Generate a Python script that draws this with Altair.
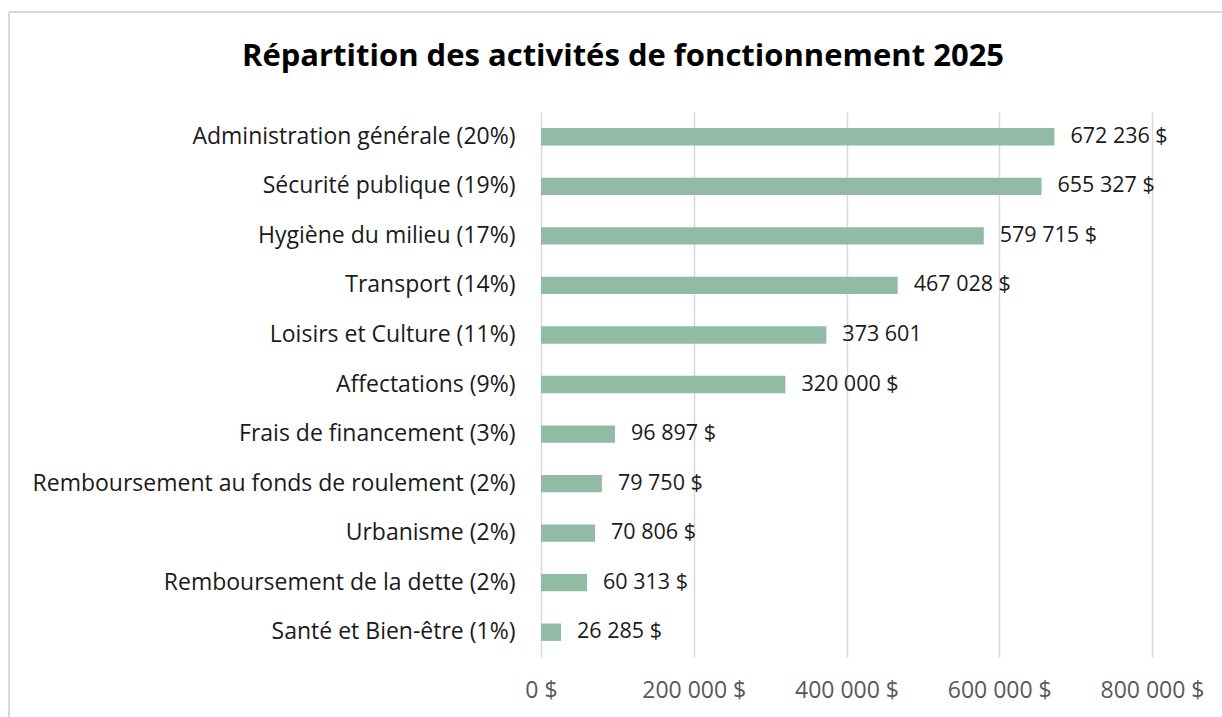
import altair as alt
import pandas as pd

categories = [
    "Administration générale (20%)",
    "Sécurité publique (19%)",
    "Hygiène du milieu (17%)",
    "Transport (14%)",
    "Loisirs et Culture (11%)",
    "Affectations (9%)",
    "Frais de financement (3%)",
    "Remboursement au fonds de roulement (2%)",
    "Urbanisme (2%)",
    "Remboursement de la dette (2%)",
    "Santé et Bien-être (1%)",
]
values = [672236, 655327, 579715, 467028, 373601, 320000, 96897, 79750, 70806, 60313, 26285]
value_labels = [
    "672 236 $", "655 327 $", "579 715 $", "467 028 $", "373 601",
    "320 000 $", "96 897 $", "79 750 $", "70 806 $", "60 313 $", "26 285 $",
]
x_ticks = [0, 200000, 400000, 600000, 800000]
title_text = "Répartition des activités de fonctionnement 2025"

FONT = "Open Sans"
W, H = 611, 545
PAD_L, PAD_T = 541, 112

df = pd.DataFrame({"cat": categories, "val": values, "lab": value_labels})

x_enc = alt.X(
    "val:Q",
    scale=alt.Scale(domain=[0, 800000], nice=False),
    axis=alt.Axis(
        values=x_ticks,
        title=None,
        domain=False,
        ticks=False,
        grid=True,
        gridColor="#d9d9d9",
        gridWidth=1.5,
        labelFontSize=23,
        labelColor="#595959",
        labelFont=FONT,
        labelPadding=22,
        labelFlush=False,
        labelOverlap=False,
        labelExpr="replace(format(datum.value, ',.0f'), ',', ' ') + ' $'",
    ),
)
y_enc = alt.Y(
    "cat:N",
    sort=categories,
    scale=alt.Scale(paddingInner=0.65, paddingOuter=0.325),
    axis=alt.Axis(
        title=None,
        domain=False,
        ticks=False,
        labelFontSize=23,
        labelColor="#1a1a1a",
        labelFont=FONT,
        labelPadding=26,
        labelLimit=0,
    ),
)

base = alt.Chart(df)
bars = base.mark_bar(color="#92bba6").encode(x=x_enc, y=y_enc)
texts = base.mark_text(align="left", baseline="middle", dx=16, fontSize=21.5, font=FONT, color="#1a1a1a").encode(
    x="val:Q", y=alt.Y("cat:N", sort=categories), text="lab:N"
)

one = alt.Chart(pd.DataFrame({"t": [title_text]}))
title = one.mark_text(align="center", baseline="alphabetic", fontSize=31, fontWeight="bold", font=FONT, color="#000000").encode(
    x=alt.value(623 - PAD_L), y=alt.value(66 - PAD_T), text="t:N"
)
frame_top = one.mark_rule(color="#d9d9d9", strokeWidth=2).encode(
    x=alt.value(9 - PAD_L), x2=alt.value(1240 - PAD_L), y=alt.value(12 - PAD_T)
)
frame_left = one.mark_rule(color="#d9d9d9", strokeWidth=2).encode(
    x=alt.value(9 - PAD_L), y=alt.value(12 - PAD_T), y2=alt.value(740 - PAD_T)
)

chart = alt.layer(bars, texts, title, frame_top, frame_left).properties(
    width=W,
    height=H,
    autosize=alt.AutoSizeParams(type="none"),
    padding={"left": PAD_L, "top": PAD_T, "right": 1222 - PAD_L - W, "bottom": 717 - PAD_T - H},
    background="white",
).configure_view(stroke=None)

chart.save("out.html", embed_options={"renderer": "svg", "actions": False})
